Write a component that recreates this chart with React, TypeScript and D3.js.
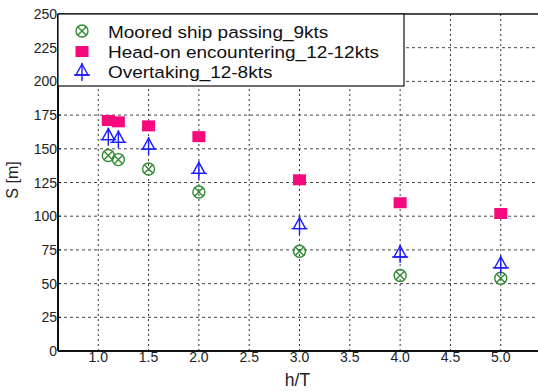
import React, { useEffect, useRef } from "react"
import * as d3 from "d3"

// h/T values and S [m] for each case
const xMoored = [1.1, 1.2, 1.5, 2.0, 3.0, 4.0, 5.0]
const yMoored = [145, 142, 135, 118, 74, 56, 54]
const xHeadOn = [1.1, 1.2, 1.5, 2.0, 3.0, 4.0, 5.0]
const yHeadOn = [171, 170, 167, 159, 127, 110, 102]
const xOvertaking = [1.1, 1.2, 1.5, 2.0, 3.0, 4.0, 5.0]
const yOvertaking = [159, 157, 152, 134, 93, 72, 64]

const xTicks = [1.0, 1.5, 2.0, 2.5, 3.0, 3.5, 4.0, 4.5, 5.0]
const yTicks = [0, 25, 50, 75, 100, 125, 150, 175, 200, 225, 250]
const seriesNames = [
  "Moored ship passing_9kts",
  "Head-on encountering_12-12kts",
  "Overtaking_12-8kts",
]

const WIDTH = 538
const HEIGHT = 391
const GREEN = "#2e8b2e"
const PINK = "#f5097d"
const BLUE = "#1a1aff"

const drawCircleX = (g, cx, cy) => {
  const r = 6
  g.append("circle").attr("cx", cx).attr("cy", cy).attr("r", r)
    .attr("fill", "none").attr("stroke", GREEN).attr("stroke-width", 1.4)
  const d = r * 0.72
  g.append("path")
    .attr("d", `M${cx - d},${cy - d}L${cx + d},${cy + d}M${cx - d},${cy + d}L${cx + d},${cy - d}`)
    .attr("stroke", GREEN).attr("stroke-width", 1.4)
}

const drawSquare = (g, cx, cy) => {
  g.append("rect").attr("x", cx - 6.5).attr("y", cy - 5.5)
    .attr("width", 13).attr("height", 11).attr("fill", PINK)
}

const drawTriangle = (g, cx, cy) => {
  // triangle with a cross, crossing near the base
  g.append("path")
    .attr("d", `M${cx},${cy - 8}L${cx + 6},${cy + 3}L${cx - 6},${cy + 3}Z`)
    .attr("fill", "none").attr("stroke", BLUE).attr("stroke-width", 1.4)
  g.append("path")
    .attr("d", `M${cx},${cy - 9}L${cx},${cy + 9}M${cx - 8},${cy + 3}L${cx + 8},${cy + 3}`)
    .attr("stroke", BLUE).attr("stroke-width", 1.4)
}

const drawChart = (wrapper) => {
  const margin = { top: 14, left: 58 }
  const x = d3.scaleLinear().domain([0.6, 5.4]).range([margin.left, 541])
  const y = d3.scaleLinear().domain([0, 250]).range([351, margin.top])

  d3.select(wrapper).selectAll("*").remove()
  const svg = d3
    .select(wrapper)
    .append("svg")
    .attr("width", WIDTH)
    .attr("height", HEIGHT)
    .style("position", "absolute")
    .style("left", 0)
    .style("top", 0)
    .style("font-family", "'Liberation Sans', Arial, sans-serif")

  svg.append("rect").attr("width", WIDTH).attr("height", HEIGHT).attr("fill", "white")

  // grid
  svg.selectAll(".hgrid")
    .data(yTicks.filter(d => d > 0 && d < 250))
    .enter()
    .append("line")
    .attr("x1", x(0.6)).attr("x2", x(5.4))
    .attr("y1", d => y(d)).attr("y2", d => y(d))
    .attr("stroke", "#444").attr("stroke-width", 1)
    .attr("stroke-dasharray", "3,3")
  svg.selectAll(".vgrid")
    .data(xTicks)
    .enter()
    .append("line")
    .attr("x1", d => x(d)).attr("x2", d => x(d))
    .attr("y1", y(250)).attr("y2", y(0))
    .attr("stroke", "#333").attr("stroke-width", 1)
    .attr("stroke-dasharray", "2,3")

  // axes frame
  svg.append("line").attr("x1", x(0.6)).attr("x2", x(0.6)).attr("y1", y(250)).attr("y2", y(0))
    .attr("stroke", "#111").attr("stroke-width", 2)
  svg.append("line").attr("x1", x(0.6)).attr("x2", WIDTH).attr("y1", y(0)).attr("y2", y(0))
    .attr("stroke", "#111").attr("stroke-width", 2)
  svg.append("line").attr("x1", x(0.6)).attr("x2", WIDTH).attr("y1", y(250)).attr("y2", y(250))
    .attr("stroke", "#111").attr("stroke-width", 1.5)

  // y tick labels
  svg.selectAll(".ylab")
    .data(yTicks)
    .enter()
    .append("text")
    .attr("x", x(0.6) - 1)
    .attr("y", d => y(d) + 5)
    .attr("text-anchor", "end")
    .style("font-size", "14px")
    .attr("fill", "#222")
    .text(d => d)
  svg.selectAll(".ytick")
    .data(yTicks)
    .enter()
    .append("line")
    .attr("x1", x(0.6)).attr("x2", x(0.6) + 3)
    .attr("y1", d => y(d)).attr("y2", d => y(d))
    .attr("stroke", "#111")

  // x tick labels
  svg.selectAll(".xlab")
    .data(xTicks)
    .enter()
    .append("text")
    .attr("x", d => x(d))
    .attr("y", y(0) + 11)
    .attr("text-anchor", "middle")
    .style("font-size", "14px")
    .attr("fill", "#222")
    .text(d => d3.format(".1f")(d))

  svg.append("text")
    .attr("x", 297.5).attr("y", 386)
    .attr("text-anchor", "middle")
    .style("font-size", "17.5px")
    .attr("fill", "#222")
    .text("h/T")
  svg.append("text")
    .attr("transform", "translate(18,180) rotate(-90)")
    .attr("text-anchor", "middle")
    .style("font-size", "16px")
    .attr("fill", "#222")
    .text("S [m]")

  // markers
  const g = svg.append("g")
  xMoored.forEach((v, i) => drawCircleX(g, x(v), y(yMoored[i])))
  xOvertaking.forEach((v, i) => drawTriangle(g, x(v), y(yOvertaking[i])))
  xHeadOn.forEach((v, i) => drawSquare(g, x(v), y(yHeadOn[i])))

  // legend
  const lg = svg.append("g")
  lg.append("rect").attr("x", x(0.6)).attr("y", y(250))
    .attr("width", 346).attr("height", 72)
    .attr("fill", "white").attr("stroke", "#111").attr("stroke-width", 1.2)
  const drawers = [drawCircleX, drawSquare, drawTriangle]
  seriesNames.forEach((name, i) => {
    const ly = 31 + i * 20.5
    drawers[i](lg, 82, ly)
    lg.append("text")
      .attr("transform", `translate(108,${38 + i * 20}) scale(1.15,1)`)
      .style("font-size", "16.5px").attr("fill", "#111").text(name)
  })
}

export default function App() {
  const ref = useRef(null)
  useEffect(() => {
    drawChart(ref.current)
  }, [])
  return <div ref={ref}></div>
}
